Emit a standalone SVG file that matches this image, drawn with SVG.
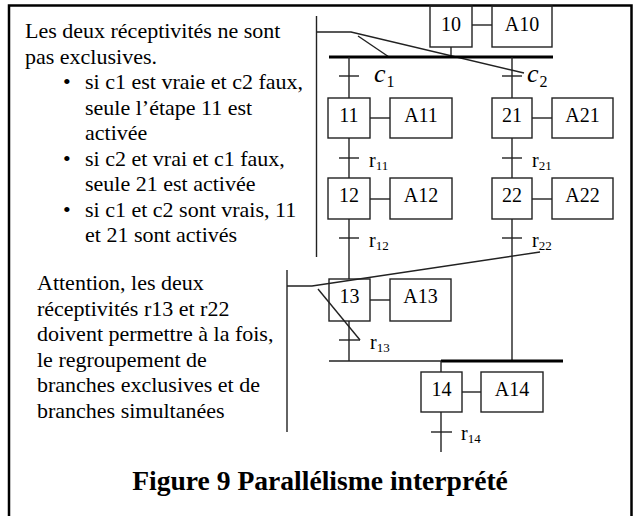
<svg xmlns="http://www.w3.org/2000/svg" width="633" height="516" viewBox="0 0 633 516">
<style>
  text { font-family: "Liberation Serif", Tinos, "Times New Roman", "DejaVu Serif", serif; fill: #000; }
  .txt { font-size: 22px; }
  .lbl { font-size: 20px; text-anchor: middle; }
  .rl { font-size: 20px; }
  .sub { font-size: 13px; }
  .ci { font-size: 26px; font-style: italic; }
  .ci .s { font-size: 16px; font-style: normal; }
  .title { font-size: 27.6px; font-weight: bold; text-anchor: middle; }
  .box { fill: none; stroke: #222; stroke-width: 1.4; }
  .ln { stroke: #222; stroke-width: 1.4; fill: none; }
  .thick { stroke: #000; stroke-width: 3; fill: none; }
  .frame { stroke: #000; stroke-width: 2.5; fill: none; }
</style>

<path class="frame" d="M9,520 V5.5 H631.5 V520"/>

<g id="notes">
  <text class="txt" x="25" y="38">Les deux réceptivités ne sont</text>
  <text class="txt" x="25" y="63.5">pas exclusives.</text>
  <text class="txt" x="63" y="89">•</text>
  <text class="txt" x="85" y="89">si c1 est vraie et c2 faux,</text>
  <text class="txt" x="85" y="114.5">seule l’étape 11 est</text>
  <text class="txt" x="85" y="140">activée</text>
  <text class="txt" x="63" y="165.5">•</text>
  <text class="txt" x="85" y="165.5">si c2 et vrai et c1 faux,</text>
  <text class="txt" x="85" y="191">seule 21 est activée</text>
  <text class="txt" x="63" y="216.5">•</text>
  <text class="txt" x="85" y="216.5">si c1 et c2 sont vrais, 11</text>
  <text class="txt" x="85" y="242">et 21 sont activés</text>

  <text class="txt" x="37" y="290">Attention, les deux</text>
  <text class="txt" x="37" y="315.5">réceptivités r13 et r22</text>
  <text class="txt" x="37" y="341">doivent permettre à la fois,</text>
  <text class="txt" x="37" y="366.5">le regroupement de</text>
  <text class="txt" x="37" y="392">branches exclusives et de</text>
  <text class="txt" x="37" y="417.5">branches simultanées</text>

  <text class="title" x="320" y="490">Figure 9 Parallélisme interprété</text>
</g>

<g id="step10"><rect class="box" x="430" y="6" width="42" height="41"/><text class="lbl" x="451" y="31">10</text></g>
<g id="action10"><rect class="box" x="492" y="6" width="60" height="41"/><text class="lbl" x="522" y="31">A10</text></g>
<g id="step11"><rect class="box" x="328" y="98" width="42" height="40"/><text class="lbl" x="349" y="122">11</text></g>
<g id="action11"><rect class="box" x="390" y="98" width="62" height="40"/><text class="lbl" x="421" y="122">A11</text></g>
<g id="step21"><rect class="box" x="492" y="98" width="40" height="40"/><text class="lbl" x="512" y="122">21</text></g>
<g id="action21"><rect class="box" x="552" y="98" width="61" height="40"/><text class="lbl" x="582.5" y="122">A21</text></g>
<g id="step12"><rect class="box" x="328" y="178" width="42" height="41"/><text class="lbl" x="349" y="202">12</text></g>
<g id="action12"><rect class="box" x="390" y="178" width="62" height="41"/><text class="lbl" x="421" y="202">A12</text></g>
<g id="step22"><rect class="box" x="492" y="178" width="40" height="41"/><text class="lbl" x="512" y="202">22</text></g>
<g id="action22"><rect class="box" x="552" y="178" width="61" height="41"/><text class="lbl" x="582.5" y="202">A22</text></g>
<g id="step13"><rect class="box" x="329" y="279" width="41" height="42"/><text class="lbl" x="349.5" y="303">13</text></g>
<g id="action13"><rect class="box" x="390" y="279" width="61" height="42"/><text class="lbl" x="420.5" y="303">A13</text></g>
<g id="step14"><rect class="box" x="421" y="372" width="41" height="40"/><text class="lbl" x="441.5" y="396">14</text></g>
<g id="action14"><rect class="box" x="481" y="372" width="62" height="40"/><text class="lbl" x="512" y="396">A14</text></g>

<g id="connectors">
  <line class="ln" x1="316.5" y1="16" x2="316.5" y2="257"/>
  <polyline class="ln" points="316.5,32 351,32 524,73"/>
  <line class="ln" x1="358" y1="36" x2="389" y2="57"/>
  <line class="ln" x1="287" y1="270" x2="287" y2="432"/>
  <polyline class="ln" points="287,286 312,286 540,252"/>
  <line class="ln" x1="318" y1="289" x2="360" y2="340"/>

  <line class="ln" x1="451" y1="47" x2="451" y2="57"/>
  <line class="thick" x1="329" y1="57" x2="553" y2="57"/>

  <line class="ln" x1="349" y1="57" x2="349" y2="98"/>
  <line class="ln" x1="339" y1="76" x2="359" y2="76"/>
  <line class="ln" x1="349" y1="138" x2="349" y2="178"/>
  <line class="ln" x1="339" y1="158" x2="359" y2="158"/>
  <line class="ln" x1="349" y1="219" x2="349" y2="279"/>
  <line class="ln" x1="339" y1="238" x2="359" y2="238"/>
  <line class="ln" x1="349" y1="321" x2="349" y2="361"/>
  <line class="ln" x1="339" y1="340" x2="360" y2="340"/>

  <line class="ln" x1="512" y1="57" x2="512" y2="98"/>
  <line class="ln" x1="502" y1="76" x2="522" y2="76"/>
  <line class="ln" x1="512" y1="138" x2="512" y2="178"/>
  <line class="ln" x1="502" y1="158" x2="522" y2="158"/>
  <line class="ln" x1="512" y1="219" x2="512" y2="361"/>
  <line class="ln" x1="502" y1="238" x2="522" y2="238"/>

  <line class="ln" x1="329" y1="361" x2="441" y2="361"/>
  <line class="thick" x1="441" y1="361" x2="563" y2="361"/>
  <line class="ln" x1="441" y1="361" x2="441" y2="372"/>
  <line class="ln" x1="441" y1="412" x2="441" y2="452"/>
  <line class="ln" x1="431" y1="432" x2="452" y2="432"/>

  <line class="ln" x1="472" y1="25" x2="492" y2="25"/>
  <line class="ln" x1="370" y1="118" x2="390" y2="118"/>
  <line class="ln" x1="532" y1="118" x2="552" y2="118"/>
  <line class="ln" x1="370" y1="199" x2="390" y2="199"/>
  <line class="ln" x1="532" y1="199" x2="552" y2="199"/>
  <line class="ln" x1="370" y1="300" x2="390" y2="300"/>
  <line class="ln" x1="462" y1="392" x2="481" y2="392"/>

  <text class="ci" x="374" y="82">c<tspan class="s" dx="1" dy="5">1</tspan></text>
  <text class="ci" x="527" y="82">c<tspan class="s" dx="1" dy="5">2</tspan></text>
  <text class="rl" x="369" y="167">r<tspan class="sub" dy="3">11</tspan></text>
  <text class="rl" x="532" y="167">r<tspan class="sub" dy="3">21</tspan></text>
  <text class="rl" x="369" y="247">r<tspan class="sub" dy="3">12</tspan></text>
  <text class="rl" x="532" y="247">r<tspan class="sub" dy="3">22</tspan></text>
  <text class="rl" x="370" y="349">r<tspan class="sub" dy="3">13</tspan></text>
  <text class="rl" x="461" y="440">r<tspan class="sub" dy="3">14</tspan></text>
</g>
</svg>
